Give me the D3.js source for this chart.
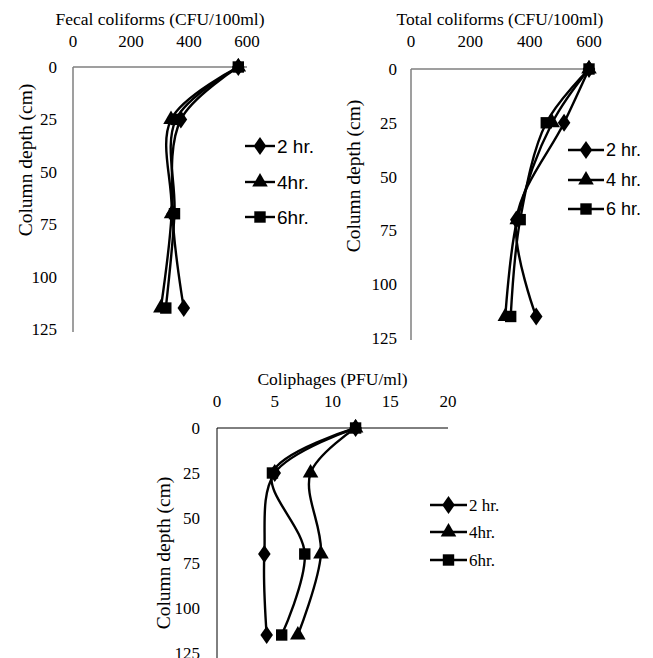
<!DOCTYPE html>
<html><head><meta charset="utf-8">
<script src="https://cdn.jsdelivr.net/npm/d3@7"></script>
<style>body{margin:0;background:#fff}svg{display:block}</style>
</head><body>
<script>
// ---- data ----
const depths = [0, 25, 70, 115];
const yTicks = [0, 25, 50, 75, 100, 125];
const fecal2 = [570, 372, 344, 382];
const fecal4 = [570, 338, 340, 303];
const fecal6 = [570, 355, 350, 320];
const total2 = [600, 516, 355, 422];
const total4 = [600, 476, 358, 318];
const total6 = [600, 456, 368, 336];
const coli2 = [12, 5.0, 4.1, 4.3];
const coli4 = [12, 8.1, 9.0, 7.0];
const coli6 = [12, 4.8, 7.6, 5.6];
const cfuTicks = [0, 200, 400, 600];
const pfuTicks = [0, 5, 10, 15, 20];
const legend1 = ["2 hr.", "4hr.", "6hr."];
const legend2 = ["2 hr.", "4 hr.", "6 hr."];
const legend3 = ["2 hr.", "4hr.", "6hr."];
const markers = ["diamond", "triangle", "square"];

const W = 653, H = 658;
const svg = d3.select("body").append("svg").attr("width", W).attr("height", H);
const serif = "'Liberation Serif','Times New Roman',serif";
const sans = "'Liberation Sans',Arial,sans-serif";

const panels = [
  {title: "Fecal coliforms (CFU/100ml)", xmax: 600, xt: cfuTicks, xr: [73, 247], yr: [67, 329], yEnd: 332,
   series: [fecal2, fecal4, fecal6], leg: legend1, legX: 245, legW: 30, legY: [146, 182, 217], legFont: sans, legSize: 19,
   axisColor: "#7f7f7f", axisW: 1.5, titleY: 25, tickY: 47, ytitleX: 25, ytitleY: 160, ytickX: 57},
  {title: "Total coliforms (CFU/100ml)", xmax: 600, xt: cfuTicks, xr: [411, 589], yr: [69, 338], yEnd: 340,
   series: [total2, total4, total6], leg: legend2, legX: 568, legW: 36, legY: [150, 180, 209], legFont: sans, legSize: 18,
   axisColor: "#7f7f7f", axisW: 1.5, titleY: 25, tickY: 47, ytitleX: 353, ytitleY: 176, ytickX: 397},
  {title: "Coliphages (PFU/ml)", xmax: 20, xt: pfuTicks, xr: [217, 448], yr: [428, 653], yEnd: 658,
   series: [coli2, coli4, coli6], leg: legend3, legX: 430, legW: 37, legY: [505, 532, 560], legFont: serif, legSize: 17,
   axisColor: "#000", axisW: 1, titleY: 385, tickY: 407, ytitleX: 163, ytitleY: 553, ytickX: 200}
];

function drawMarker(g, type, x, y) {
  const sym = {diamond: d3.symbolDiamond, triangle: d3.symbolTriangle, square: d3.symbolSquare}[type];
  const size = {diamond: 95, triangle: 105, square: 130}[type];
  const t = type === "diamond" ? ` scale(1.2,1)` : "";
  g.append("path").attr("d", d3.symbol(sym, size)())
    .attr("transform", `translate(${x},${y})${t}`).attr("fill", "#000");
}

panels.forEach(p => {
  const x = d3.scaleLinear().domain([0, p.xmax]).range(p.xr);
  const y = d3.scaleLinear().domain([0, 125]).range(p.yr);
  const g = svg.append("g");
  // axes lines
  g.append("line").attr("x1", x(0)).attr("x2", x(p.xmax)).attr("y1", y(0)).attr("y2", y(0))
    .attr("stroke", p.axisColor).attr("stroke-width", p.axisW);
  g.append("line").attr("x1", x(0)).attr("x2", x(0)).attr("y1", y(0)).attr("y2", p.yEnd)
    .attr("stroke", p.axisColor).attr("stroke-width", p.axisW);
  // x ticks (top)
  g.selectAll(".xt").data(p.xt).enter().append("text")
    .attr("x", d => x(d)).attr("y", p.tickY).attr("text-anchor", "middle")
    .attr("font-family", serif).attr("font-size", 17).text(d => d);
  // title
  g.append("text").attr("x", (p.xr[0] + p.xr[1]) / 2).attr("y", p.titleY).attr("text-anchor", "middle")
    .attr("font-family", serif).attr("font-size", 17.5).text(p.title);
  // y ticks
  g.selectAll(".yt").data(yTicks).enter().append("text")
    .attr("x", p.ytickX).attr("y", d => y(d)).attr("dy", "0.35em").attr("text-anchor", "end")
    .attr("font-family", serif).attr("font-size", 17).text(d => d);
  g.append("text").attr("transform", `translate(${p.ytitleX},${p.ytitleY}) rotate(-90)`)
    .attr("text-anchor", "middle").attr("dy", "0.35em")
    .attr("font-family", serif).attr("font-size", 19.5).text("Column depth (cm)");
  // series
  const line = d3.line().x(d => x(d[0])).y(d => y(d[1])).curve(d3.curveCatmullRom.alpha(0.5));
  p.series.forEach((s, i) => {
    const pts = s.map((v, j) => [v, depths[j]]);
    g.append("path").attr("d", line(pts)).attr("fill", "none").attr("stroke", "#000").attr("stroke-width", 2.4);
  });
  p.series.forEach((s, i) => {
    s.forEach((v, j) => drawMarker(g, markers[i], x(v), y(depths[j])));
  });
  // legend
  p.leg.forEach((lab, i) => {
    const ly = p.legY[i];
    g.append("line").attr("x1", p.legX).attr("x2", p.legX + p.legW).attr("y1", ly).attr("y2", ly)
      .attr("stroke", "#000").attr("stroke-width", 2.4);
    drawMarker(g, markers[i], p.legX + p.legW / 2, ly);
    g.append("text").attr("x", p.legX + p.legW + 2).attr("y", ly).attr("dy", "0.35em")
      .attr("font-family", p.legFont).attr("font-size", p.legSize).text(lab);
  });
});
</script>
</body></html>
